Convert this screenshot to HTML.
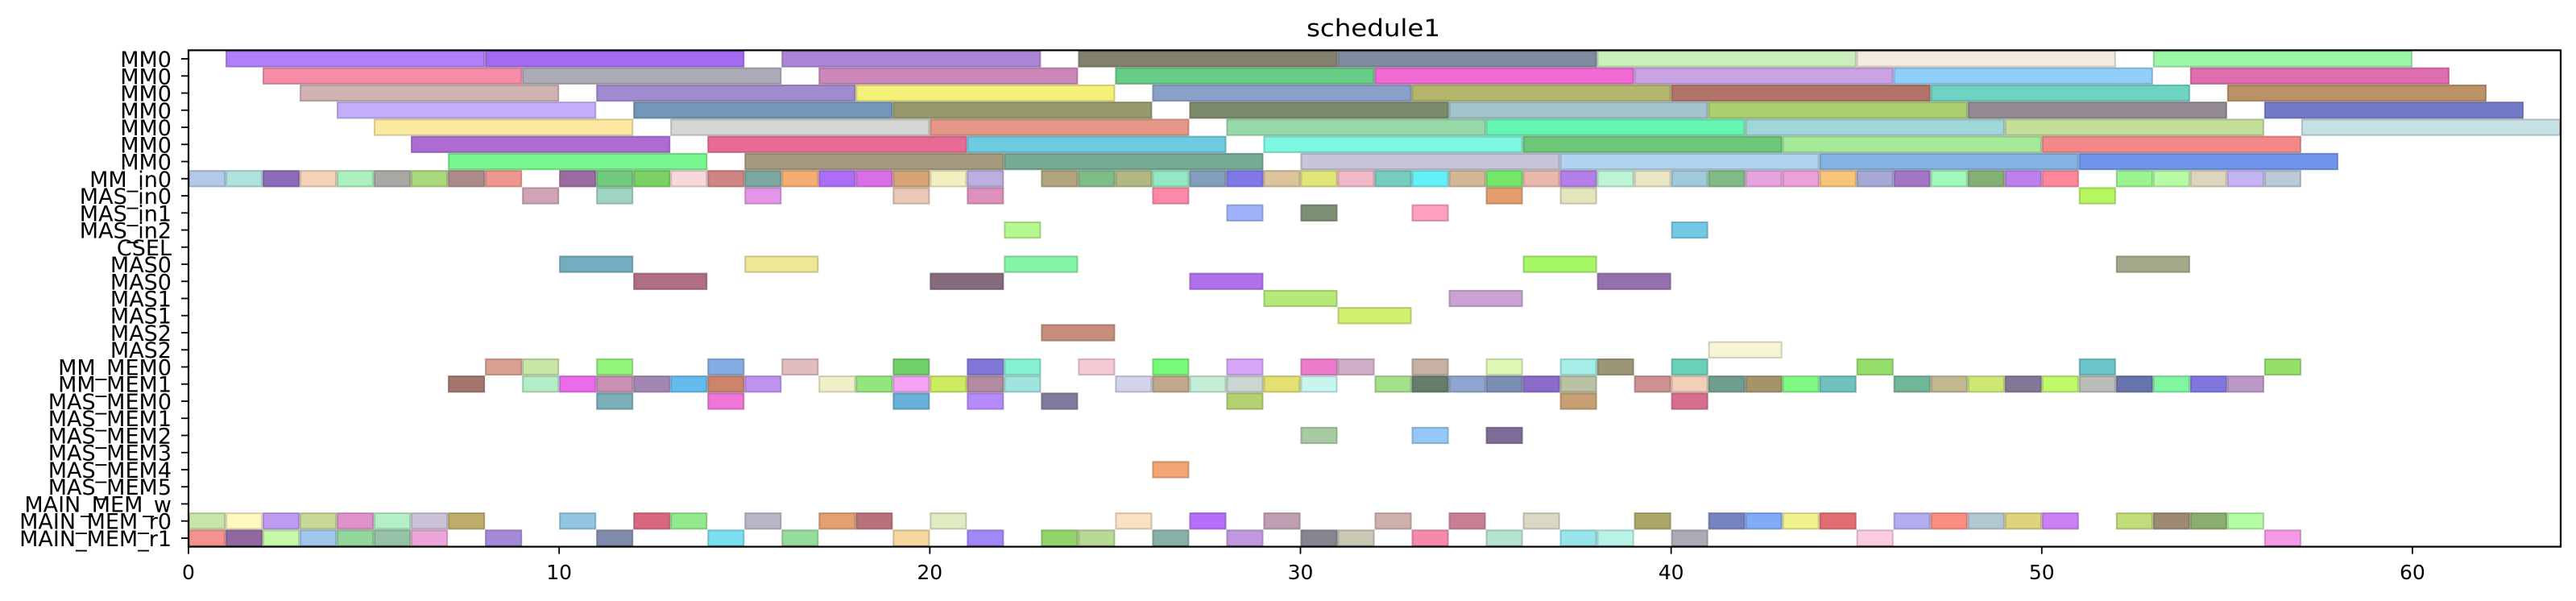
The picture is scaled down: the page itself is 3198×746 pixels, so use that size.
<!DOCTYPE html>
<html><head><meta charset="utf-8">
<style>html,body{margin:0;padding:0;background:#fff;}svg{display:block;}</style>
</head><body>
<svg id="chart" width="3198" height="746" viewBox="0 0 3198 746" xmlns="http://www.w3.org/2000/svg" font-family="DejaVu Sans, Liberation Sans, sans-serif">
<rect x="0" y="0" width="3198" height="746" fill="#fff"/>
<text x="1705" y="45" font-size="29" text-anchor="middle" textLength="166" lengthAdjust="spacingAndGlyphs">schedule1</text>
<g id="bars"></g>
<g id="axes"></g>
</svg>
<script>
const rowLabels = ["MM0","MM0","MM0","MM0","MM0","MM0","MM0","MM_in0","MAS_in0","MAS_in1","MAS_in2","CSEL","MAS0","MAS0","MAS1","MAS1","MAS2","MAS2","MM_MEM0","MM_MEM1","MAS_MEM0","MAS_MEM1","MAS_MEM2","MAS_MEM3","MAS_MEM4","MAS_MEM5","MAIN_MEM_w","MAIN_MEM_r0","MAIN_MEM_r1"];
const xTicks = [0,10,20,30,40,50,60];
const xMax = 64;
const durationByRow = [7,7,7,7,7,7,7,1,1,1,1,1,2,2,2,2,2,2,1,1,1,1,1,1,1,1,1,1,1];
const startsByRow = [
[1,8,16,24,31,38,45,53],
[2,9,17,25,32,39,46,54],
[3,11,18,26,33,40,47,55],
[4,12,19,27,34,41,48,56],
[5,13,20,28,35,42,49,57],
[6,14,21,29,36,43,50],
[7,15,22,30,37,44,51],
[0,1,2,3,4,5,6,7,8,10,11,12,13,14,15,16,17,18,19,20,21,23,24,25,26,27,28,29,30,31,32,33,34,35,36,37,38,39,40,41,42,43,44,45,46,47,48,49,50,52,53,54,55,56],
[9,11,15,19,21,26,35,37,51],
[28,30,33],
[22,40],
[],
[10,15,22,36,52],
[12,20,27,38],
[29,34],
[31],
[23],
[41],
[8,9,11,14,16,19,21,22,24,26,28,30,31,33,35,37,38,40,45,51,56],
[7,9,10,11,12,13,14,15,17,18,19,20,21,22,25,26,27,28,29,30,32,33,34,35,36,37,39,40,41,42,43,44,46,47,48,49,50,51,52,53,54,55],
[11,14,19,21,23,28,37,40],
[],
[30,33,35],
[],
[26],
[],
[],
[0,1,2,3,4,5,6,7,10,12,13,15,17,18,20,25,27,29,32,34,36,39,41,42,43,44,46,47,48,49,50,52,53,54,55],
[0,1,2,3,4,5,6,8,11,14,16,19,21,23,24,26,28,30,31,33,35,37,38,40,45,56]
];
const colorsByRow = [
["b07ffa","a36bf2","ab85d6","83806f","808aa0","cbefbc","f5eade","9df7a9"],
["f78ca8","acabb7","cd88bb","66cc86","ef6ad3","c9a3e3","8fcffa","e06daf"],
["d0b2b3","a08bd0","f5f07a","8ba0c9","b4b66b","b2746a","6fd3c3","bb9266"],
["c4aefa","7297b9","979a6c","7b8a6a","a2c5d0","acd070","948a92","7479c8"],
["fbe9a0","d5d6d2","e59788","98d9aa","66f6b4","9fd6d9","c4e098","c6e0e3"],
["ad6bd4","ea6a96","6ccae1","7df7e2","6bc879","a4ea98","f38888"],
["78f78e","a59a7d","74ac93","c8c5da","b0d3f0","82b3e3","6f95eb"],
["b2c9ea","b0e2e0","8a6cb9","f3d3b7","abf0bd","a8a8a4","abd87c","ad8a8b","f09690","9a6ba1","72ca7e","7bd163","f9d8dc","d08484","7aa89e","f5ae70","ab6ef5","d96ee8","d6a475","f3f0c0","bbaee0","b2a57e","7fbd87","b3b882","92eac4","829fbd","8077e8","dbc39c","dfe67a","f1b9c8","75cdbf","65f0f7","d3b897","75e86c","e8b8ad","b47fe8","bbf5d6","ebe6c3","a0cad9","7fbb86","e4a3dc","eba0d8","f7c479","a6a8d6","a375c4","9ffabb","85b075","bc80ed","fe8799","9af591","b7fba5","ddd6bf","c5b5f5","b9c9d6"],
["d0a3b6","9ed4c1","e396e8","eac8b6","dc92bc","fd88a7","e59e6d","e3e5bd","b6f75f"],
["9fb2fa","7a8f76","fe9fbd"],
["b7f790","72c9e4"],
[],
["74adc0","eee796","83f6a6","a6f965","a6a88b"],
["b06e84","876a7e","b070eb","9670ae"],
["b6e87a","c9a3d4"],
["d3ef70"],
["c58f7c"],
["f7f5d6"],
["d9a090","c9e5a4","93f47c","83ade3","e1bcc0","70d168","8177d8","85f2d2","f5cad5","77fa7a","d7a5f8","ef7ccb","d2afc8","c7b1a2","ddf9b5","a5efe8","9c9675","6ad1b8","96de6a","6bc4c7","96e06a"],
["a6756e","b3eec6","ea6ceb","c990b2","a287b4","64bcee","cc846b","bf92ef","f0f0c8","93e67c","f5a2f5","cdec5f","b38ba2","a0e4e0","d3d3ea","c1a88a","c4efd6","c9d6d1","e4e072","c8f5ee","a4e08a","657c6a","8ea5d1","7a8db2","8b6bcb","bac2a4","cd9192","f2cfb9","6f9e91","a49468","7ffa84","6fc2bf","72b698","c2b88f","cce872","827797","c0fa6a","bdbdb8","6673ad","80f6a0","8076e0","bb98c8"],
["7aaeb9","ef76d8","67b0d8","b68afb","807c9d","b5d272","c8a074","d96d8e"],
[],
["a8cba4","95c8f8","7d6c98"],
[],
["f3a674"],
[],
[],
["c9e5a8","fef9c0","bf9bf2","c9da98","df92ca","b3f0c8","cdc3d8","bfad6b","93c6e2","d9677f","93ea8d","bab8c6","e5a072","b8737a","e0ebc1","fae1c3","b56ff8","c19fb2","d0b0aa","c98095","dbd8c5","aba86a","7584c1","81aaf7","f0f38c","e26d70","b2aef0","fb8d80","b0c9d0","dfd37c","cb80f6","c2dd7c","9e8a73","8aae6d","b4fca4"],
["f5928d","9268a3","c5f8a8","a0c8ed","93d69b","96c2a8","eda6d9","a58ad9","7f8bab","7bdff0","96dc9b","f8d6a0","a287f8","93d46c","bad896","87b0a8","c098e0","888590","c8c8b4","f78aab","b5e5d0","98e5ec","b8f3e8","adaab8","fccce2","f59ae8"]
];

const NS = "http://www.w3.org/2000/svg";
const plotL = 234, plotR = 3179, plotT = 62.4, plotB = 678.6;
const nRows = rowLabels.length;
const rowH = (plotB - plotT) / nRows;
function xScale(t) { return plotL + (plotR - plotL) * t / xMax; }
function yScale(r) { return plotT + r * rowH; }
function darker(hex) {
  const n = parseInt(hex, 16);
  const r = Math.round(((n >> 16) & 255) * 0.8), g = Math.round(((n >> 8) & 255) * 0.8), b = Math.round((n & 255) * 0.8);
  return "rgb(" + r + "," + g + "," + b + ")";
}
const barsG = document.getElementById("bars");
for (let r = 0; r < nRows; r++) {
  const starts = startsByRow[r];
  for (let i = 0; i < starts.length; i++) {
    const x0 = xScale(starts[i]), x1 = xScale(starts[i] + durationByRow[r]);
    const rect = document.createElementNS(NS, "rect");
    rect.setAttribute("x", x0 + 1);
    rect.setAttribute("y", yScale(r) + 1);
    rect.setAttribute("width", x1 - x0 - 2);
    rect.setAttribute("height", rowH - 2);
    rect.setAttribute("fill", "#" + colorsByRow[r][i]);
    rect.setAttribute("stroke", darker(colorsByRow[r][i]));
    rect.setAttribute("stroke-opacity", "0.8");
    rect.setAttribute("stroke-width", "2");
    
    
    barsG.appendChild(rect);
  }
}
const axesG = document.getElementById("axes");
const frame = document.createElementNS(NS, "rect");
frame.setAttribute("x", plotL); frame.setAttribute("y", plotT);
frame.setAttribute("width", plotR - plotL); frame.setAttribute("height", plotB - plotT);
frame.setAttribute("fill", "none"); frame.setAttribute("stroke", "#000"); frame.setAttribute("stroke-width", "2.2");


axesG.appendChild(frame);
for (const t of xTicks) {
  const x = xScale(t);
  const ln = document.createElementNS(NS, "line");
  ln.setAttribute("x1", x); ln.setAttribute("x2", x);
  ln.setAttribute("y1", plotB); ln.setAttribute("y2", plotB + 9);
  ln.setAttribute("stroke", "#000"); ln.setAttribute("stroke-width", "1.8");
  
  
  axesG.appendChild(ln);
  const tx = document.createElementNS(NS, "text");
  tx.setAttribute("x", x); tx.setAttribute("y", 719);
  tx.setAttribute("font-size", "25"); tx.setAttribute("text-anchor", "middle");
  tx.textContent = String(t);
  
  
  axesG.appendChild(tx);
}
for (let r = 0; r < nRows; r++) {
  const yc = yScale(r) + rowH / 2;
  const ln = document.createElementNS(NS, "line");
  ln.setAttribute("x1", plotL - 9); ln.setAttribute("x2", plotL);
  ln.setAttribute("y1", yc); ln.setAttribute("y2", yc);
  ln.setAttribute("stroke", "#000"); ln.setAttribute("stroke-width", "1.8");
  
  
  axesG.appendChild(ln);
  const tx = document.createElementNS(NS, "text");
  tx.setAttribute("x", 213); tx.setAttribute("y", yc + 10);
  tx.setAttribute("font-size", "27"); tx.setAttribute("text-anchor", "end");
  tx.textContent = rowLabels[r];
  
  
  axesG.appendChild(tx);
}
</script>
</body></html>
